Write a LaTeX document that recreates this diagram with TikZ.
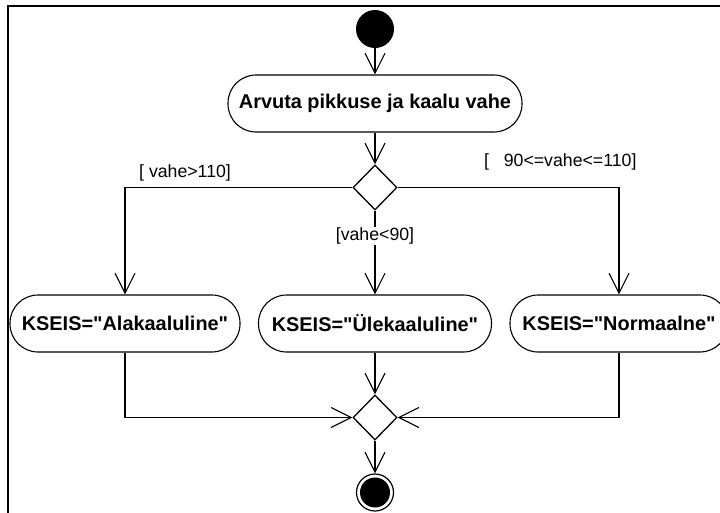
\documentclass[tikz,border=0pt]{standalone}
\usepackage{fontspec}
\setmainfont{Liberation Sans}
\usetikzlibrary{arrows.meta,shapes.geometric}
\begin{document}
\begin{tikzpicture}[x=1pt,y=-1pt,
  flow/.style={line width=1.1pt,-{Straight Barb[length=20pt,width=20pt,line width=1.1pt]}},
  plain/.style={line width=1.1pt},
  act/.style={draw,line width=1.1pt,rounded corners=28pt,minimum height=57pt,inner sep=0pt,
    font=\fontsize{19.9}{23}\selectfont\bfseries},
  diam/.style={draw,diamond,line width=1.3pt,minimum width=44pt,minimum height=45pt,inner sep=0pt,fill=white},
  guard/.style={font=\fontsize{17.7}{21}\selectfont,inner sep=1pt}
]
\useasboundingbox (0,0) rectangle (720,512);
\draw[line width=2pt] (7.5,520) -- (7.5,5.5) -- (730,5.5);

\node[circle,fill=black,minimum size=38pt,inner sep=0pt] (init) at (375,29) {};
\node[act,minimum width=294pt] (a1) at (375,103.5) {Arvuta pikkuse ja kaalu vahe};
\node[diam] (dec) at (375,187.5) {};
\node[act,minimum width=230pt] (b1) at (125,323.5) {KSEIS=\textquotedbl Alakaaluline\textquotedbl};
\node[act,minimum width=233pt] (b2) at (375,323.5) {KSEIS=\textquotedbl Ülekaaluline\textquotedbl};
\node[act,minimum width=218pt] (b3) at (619,323.5) {KSEIS=\textquotedbl Normaalne\textquotedbl};
\node[diam] (mer) at (375,417.5) {};
\node[circle,draw,line width=1.2pt,minimum size=37pt,inner sep=0pt] (fin) at (375,492.5) {};
\node[circle,fill=black,minimum size=30pt,inner sep=0pt] at (fin) {};

\draw[flow] (init) -- (a1);
\draw[flow] (a1) -- (dec);
\draw[flow] (dec.west) -| (b1.north);
\draw[flow] (dec.east) -| (b3.north);
\draw[flow] (dec.south) -- (b2.north)
  node[guard,fill=white,pos=0.3] (g2) {[vahe<90]};
\draw[flow] (b1.south) |- (mer.west);
\draw[flow] (b3.south) |- (mer.east);
\draw[flow] (b2) -- (mer);
\draw[flow] (mer) -- (fin);

\node[guard,anchor=west] (g1) at (138,173) {[ vahe>110]};
\node[guard,anchor=west] (g3) at (483,162) {[\ \ \ 90<=vahe<=110]};
\end{tikzpicture}
\end{document}
